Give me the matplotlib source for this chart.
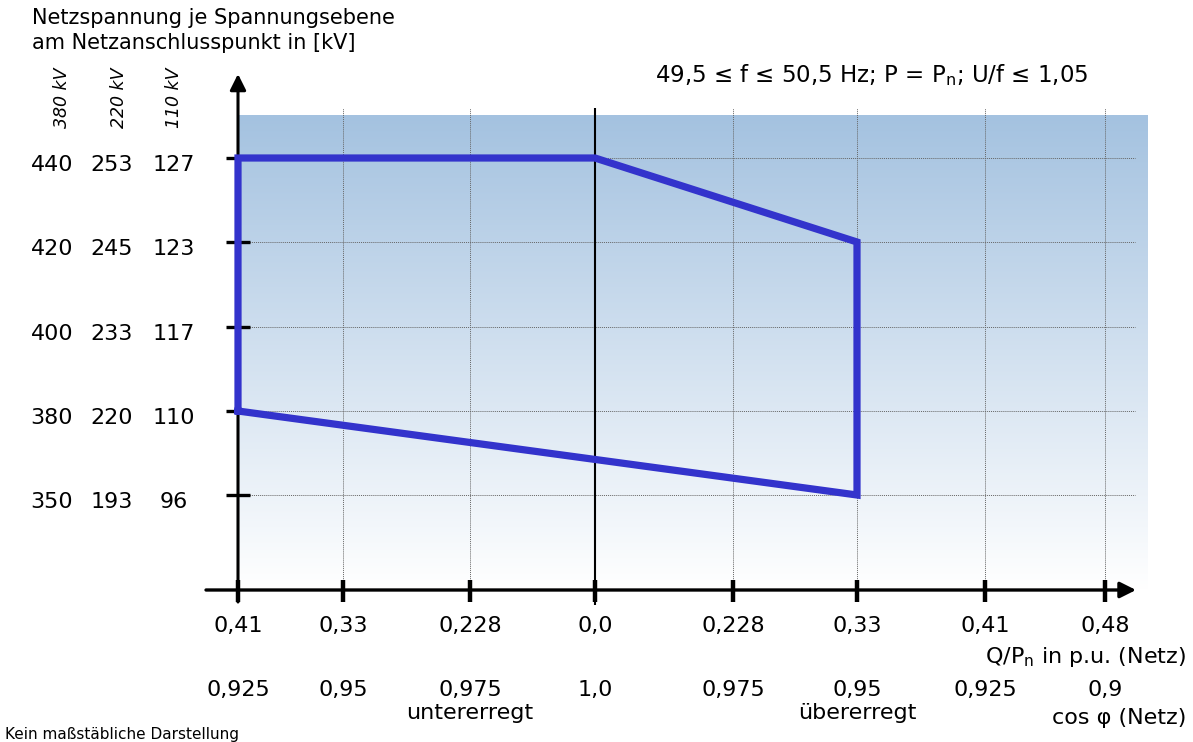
import numpy as np
import matplotlib
matplotlib.use("Agg")
import matplotlib.pyplot as plt
import matplotlib.transforms as mtransforms

# reactive power Q/Pn (negative = untererregt), with labels
q_vals = [-0.41, -0.33, -0.228, 0.0, 0.228, 0.33, 0.41, 0.48]
q_labels = ["0,41", "0,33", "0,228", "0,0", "0,228", "0,33", "0,41", "0,48"]
cos_labels = ["0,925", "0,95", "0,975", "1,0", "0,975", "0,95", "0,925", "0,9"]

# voltage levels (380 kV grid as reference) and the matching labels
u_vals = [350, 380, 400, 420, 440]
u_380 = ["350", "380", "400", "420", "440"]
u_220 = ["193", "220", "233", "245", "253"]
u_110 = ["96", "110", "117", "123", "127"]
level_names = ["380 kV", "220 kV", "110 kV"]

# operating area boundary
poly_q = [-0.41, -0.41, 0.0, 0.33, 0.33, -0.41]
poly_u = [380, 440, 440, 420, 350, 380]

W, H = 1193, 742

# chart is not to scale -> piecewise linear axes (pixel position of each tick)
q_px = [238, 343, 470, 595, 733, 857, 985, 1105]
u_px = [H - p for p in [495, 411, 327, 242, 158]]


def piecewise(xp, fp):
    xp = np.asarray(xp, float)
    fp = np.asarray(fp, float)

    def f(v):
        v = np.asarray(v, float)
        out = np.interp(v, xp, fp)
        s0 = (fp[1] - fp[0]) / (xp[1] - xp[0])
        s1 = (fp[-1] - fp[-2]) / (xp[-1] - xp[-2])
        out = np.where(v < xp[0], fp[0] + (v - xp[0]) * s0, out)
        out = np.where(v > xp[-1], fp[-1] + (v - xp[-1]) * s1, out)
        return out
    return f


fx, ix = piecewise(q_vals, q_px), piecewise(q_px, q_vals)
fyv, iyv = piecewise(u_vals, u_px), piecewise(u_px, u_vals)


def fy(ypix):
    # figure fraction from a pixel row counted from the top
    return 1 - ypix / H


fig = plt.figure(figsize=(W / 100, H / 100), dpi=100)
plt.rcParams["font.family"] = "DejaVu Sans"

# gradient background
bg = fig.add_axes([238 / W, fy(590), (1148 - 238) / W, (590 - 115) / H])
top = np.array([164, 194, 224]) / 255
t = np.linspace(0, 1, 256)[:, None]
grad = top * (1 - t) + np.ones(3) * t
grad = np.repeat(grad[:, None, :], 2, axis=1)
bg.imshow(grad, aspect="auto", extent=[0, 1, 0, 1], interpolation="bilinear")
bg.axis("off")
bg.set_zorder(0)

ax = fig.add_axes([0, 0, 1, 1])
ax.set_zorder(1)
ax.patch.set_alpha(0)
ax.set_xscale("function", functions=(fx, ix))
ax.set_yscale("function", functions=(fyv, iyv))
ax.set_xlim(float(ix(0)), float(ix(W)))
ax.set_ylim(float(iyv(0)), float(iyv(H)))
ax.axis("off")

xtr = ax.get_xaxis_transform()
ytr = ax.get_yaxis_transform()

# grid
grid_q = [q for q in q_vals if q not in (-0.41, 0.0)]
ax.vlines(grid_q, fy(590), fy(108), transform=xtr, colors="#666666",
          linestyles=(0, (1, 1)), linewidth=0.7)
ax.hlines(u_vals, 238 / W, 1135 / W, transform=ytr, colors="#666666",
          linestyles=(0, (1, 1)), linewidth=0.7)
ax.vlines([0.0], fy(605), fy(108), transform=xtr, colors="black", linewidth=1.5)

# axes with arrows
ax.annotate("", xy=(-0.41, fy(74)), xytext=(-0.41, fy(602)),
            xycoords=("data", "axes fraction"), textcoords=("data", "axes fraction"),
            arrowprops=dict(arrowstyle="-|>", color="black", lw=2.2,
                            mutation_scale=24, shrinkA=0, shrinkB=0))
ax.annotate("", xy=(1136 / W, fy(590)), xytext=(206 / W, fy(590)),
            xycoords="axes fraction",
            arrowprops=dict(arrowstyle="-|>", color="black", lw=2.4,
                            mutation_scale=24, shrinkA=0, shrinkB=0))

# ticks
ax.vlines(q_vals, fy(602), fy(580), transform=xtr, colors="black", linewidth=3.2)
ax.hlines(u_vals, 226 / W, 250 / W, transform=ytr, colors="black", linewidth=2.4)

# operating area
ax.plot(poly_q, poly_u, color="#3333cc", linewidth=5.2,
        solid_joinstyle="miter", zorder=5)

# y labels
ylab_tr = mtransforms.offset_copy(ytr, fig=fig, y=-7, units="dots")
for col_x, labels in zip([52, 112, 174], [u_380, u_220, u_110]):
    for u, lab in zip(u_vals, labels):
        ax.text(col_x / W, u, lab, transform=ylab_tr, ha="center",
                va="center", fontsize=16)
for col_x, name in zip([62, 119, 174], level_names):
    fig.text(col_x / W, fy(98), name, rotation=90, style="italic",
             ha="center", va="center", fontsize=12.5)

# x labels
for q, lab, cl in zip(q_vals, q_labels, cos_labels):
    ax.text(q, fy(626), lab, transform=xtr, ha="center", va="center", fontsize=16)
    ax.text(q, fy(690), cl, transform=xtr, ha="center", va="center", fontsize=16)
ax.text(-0.228, fy(713), "untererregt", transform=xtr, ha="center",
        va="center", fontsize=16)
ax.text(0.33, fy(713), "übererregt", transform=xtr, ha="center",
        va="center", fontsize=16)

fig.text(1186 / W, fy(657), "Q/P$_\\mathregular{n}$ in p.u. (Netz)",
         ha="right", va="center", fontsize=16)
fig.text(1186 / W, fy(718), "cos φ (Netz)", ha="right", va="center", fontsize=16)

fig.text(32 / W, fy(8), "Netzspannung je Spannungsebene\nam Netzanschlusspunkt in [kV]",
         ha="left", va="top", fontsize=15, linespacing=1.3)
fig.text(872 / W, fy(75), "49,5 ≤ f ≤ 50,5 Hz; P = P$_\\mathregular{n}$; U/f ≤ 1,05",
         ha="center", va="center", fontsize=16.5)
fig.text(5 / W, fy(734), "Kein maßstäbliche Darstellung", ha="left",
         va="center", fontsize=11)

fig.savefig("out.png", dpi=100)
